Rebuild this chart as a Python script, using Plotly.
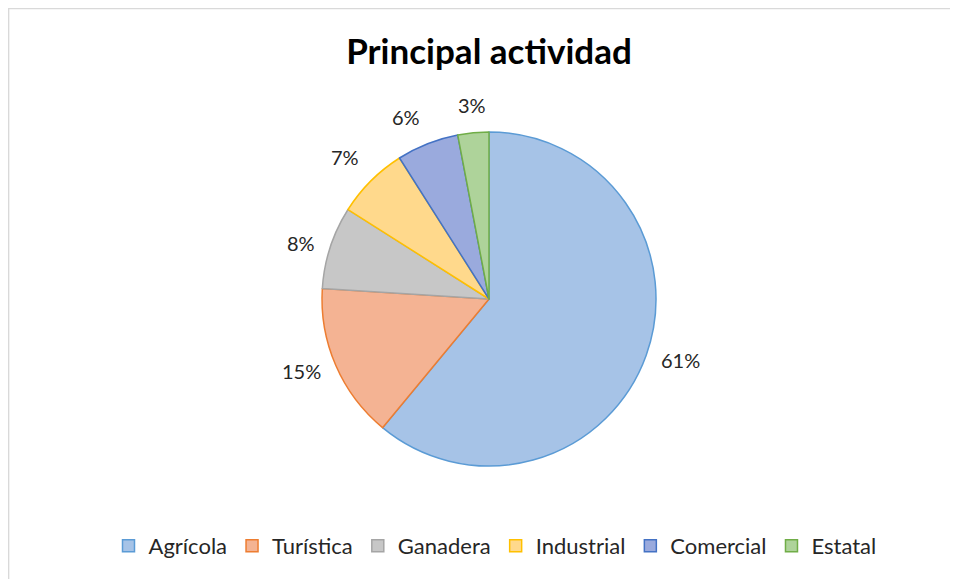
import math
import plotly.graph_objects as go

categories = ["Agrícola", "Turística", "Ganadera", "Industrial", "Comercial", "Estatal"]
values = [61, 15, 8, 7, 6, 3]
fill_colors = ["#a6c3e7", "#f4b393", "#c7c7c7", "#ffd98c", "#9aaadd", "#aed39a"]
line_colors = ["#5b9bd5", "#ed7d31", "#a5a5a5", "#ffc000", "#4472c4", "#70ad47"]

# page offset (browser body margin) compensation
OFF = 8
W, H = 958 - OFF, 579 - OFF
cx, cy, r = 489 - OFF, 299 - OFF, 167
gap = 14

fig = go.Figure(go.Pie(
    labels=categories,
    values=values,
    sort=False,
    direction="clockwise",
    rotation=0,
    marker=dict(colors=fill_colors, line=dict(color=line_colors, width=1.5)),
    textinfo="none",
    domain=dict(x=[(cx - r) / W, (cx + r) / W], y=[1 - (cy + r) / H, 1 - (cy - r) / H]),
    hoverinfo="label+percent",
))

# data labels placed outside each slice, at the slice's mid-angle
total = sum(values)
annotations = []
cum = 0
for v in values:
    mid = (cum + v / 2) / total * 2 * math.pi
    cum += v
    s, c = math.sin(mid), math.cos(mid)
    px = cx + (r + gap) * s
    py = cy - (r + gap) * c
    xa = "left" if s > 0.3 else ("right" if s < -0.3 else "center")
    ya = "bottom" if c > 0.4 else ("top" if c < -0.4 else "middle")
    annotations.append(dict(
        x=px / W, y=1 - py / H, xref="paper", yref="paper",
        text=f"{round(100 * v / total)}%", showarrow=False,
        xanchor=xa, yanchor=ya,
        font=dict(family="Lato", size=20, color="#262626"),
    ))

fig.update_layout(
    width=W, height=H,
    margin=dict(l=0, r=0, t=0, b=0),
    paper_bgcolor="white",
    title=dict(text="<b>Principal actividad</b>", x=cx / W, xanchor="center",
               y=1 - (52 - OFF) / H, yanchor="middle",
               font=dict(family="Lato", size=35, color="#000000")),
    legend=dict(orientation="h", x=(495 - OFF) / W, xanchor="center", y=1 - (546 - OFF) / H, yanchor="middle",
                font=dict(family="Lato", size=22, color="#262626"), itemwidth=30,
                traceorder="normal"),
    annotations=annotations,
    shapes=[dict(type="rect", xref="paper", yref="paper", x0=0.6 / W, x1=1.2, y0=-0.2, y1=1 - 0.6 / H,
                 line=dict(color="#d9d9d9", width=1.5), fillcolor="rgba(0,0,0,0)", layer="below")],
)

fig.write_html("out.html")
